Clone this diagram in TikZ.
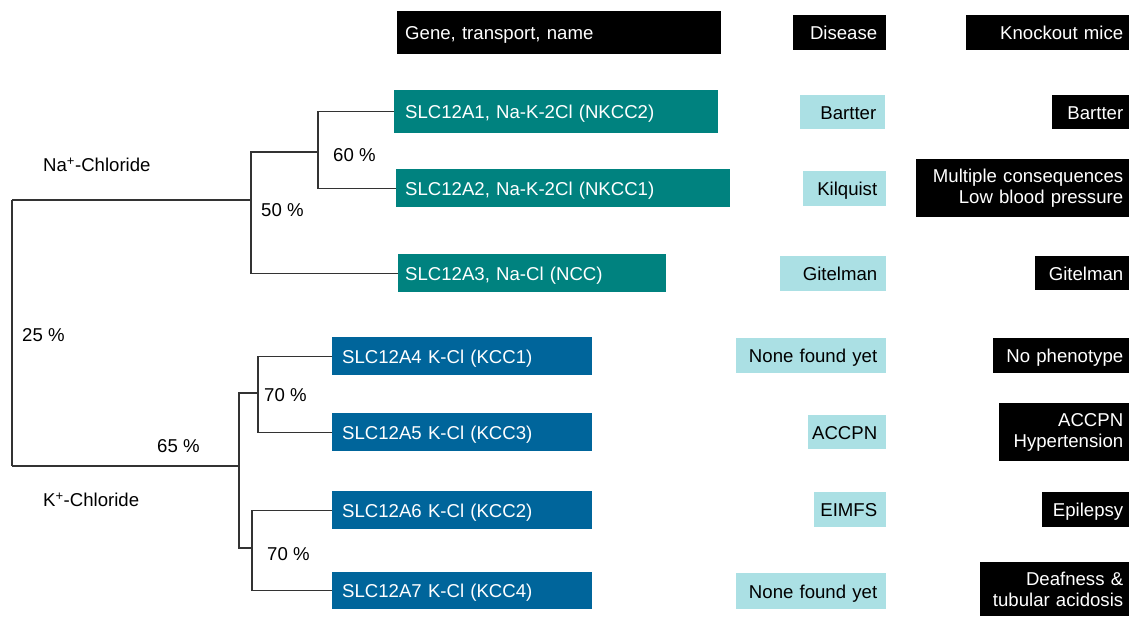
\documentclass[tikz,border=0pt]{standalone}
\usepackage{fontspec}
\setmainfont{Liberation Sans}
\definecolor{tealbox}{HTML}{00827F}
\definecolor{bluebox}{HTML}{00659B}
\definecolor{cyanbox}{HTML}{ABE0E4}
\definecolor{treeline}{HTML}{333333}
\newcommand\rtext[1]{\hspace*{\fill}\llap{#1}}
\begin{document}
\begin{tikzpicture}[x=1pt,y=-1pt,
 txt/.style={font=\fontsize{18.6pt}{21.5pt}\selectfont, inner sep=0pt},
 box/.style={txt, rectangle, anchor=north west, inner ysep=0pt},
 one/.style={text height=13.6pt, text depth=0pt},
 hdr/.style={fill=black, text=white},
 genebox/.style={box, align=left, fill=tealbox, text=white},
 kgenebox/.style={box, align=left, fill=bluebox, text=white, inner xsep=10pt},
 disbox/.style={box, one, align=left, fill=cyanbox, text=black, inner xsep=9pt},
 mousebox/.style={box, align=right, fill=black, text=white, inner xsep=6pt},
 lab/.style={txt, anchor=base west, text=black},
 tree/.style={draw=treeline, line width=1.1pt}
]
\useasboundingbox (0,0) rectangle (1129,616);

% headers
\node[box, hdr, one, align=left, inner xsep=8pt, text width=308pt, minimum height=43pt] (hgene) at (397,11) {Gene, transport, name};
\node[box, hdr, one, align=left, inner xsep=9pt, text width=75pt, minimum height=35pt] (hdis) at (793,15) {\rtext{Disease}};
\node[mousebox, one, text width=151pt, minimum height=35pt] (hko) at (966,15) {Knockout mice};

% gene boxes
\node[genebox, one, inner xsep=11pt, text width=302pt, minimum height=43pt] (a1) at (394,90) {SLC12A1, Na-K-2Cl (NKCC2)};
\node[genebox, one, inner xsep=9pt, text width=316pt, minimum height=38pt] (a2) at (396,169) {SLC12A2, Na-K-2Cl (NKCC1)};
\node[genebox, one, inner xsep=7pt, text width=254pt, minimum height=38pt] (a3) at (398,254) {SLC12A3, Na-Cl (NCC)};
\node[kgenebox, one, text width=240pt, minimum height=38pt] (a4) at (332,337) {SLC12A4 K-Cl (KCC1)};
\node[kgenebox, one, text width=240pt, minimum height=38pt] (a5) at (332,413) {SLC12A5 K-Cl (KCC3)};
\node[kgenebox, one, text width=240pt, minimum height=38pt] (a6) at (332,491) {SLC12A6 K-Cl (KCC2)};
\node[kgenebox, one, text width=240pt, minimum height=37pt] (a7) at (332,572) {SLC12A7 K-Cl (KCC4)};

% disease boxes
\node[disbox, text width=67pt, minimum height=34pt] (d1) at (800,95) {\rtext{Bartter}};
\node[disbox, text width=65pt, minimum height=35pt] (d2) at (803,171) {\rtext{Kilquist}};
\node[disbox, text width=88pt, minimum height=35pt] (d3) at (780,256) {\rtext{Gitelman}};
\node[disbox, text width=132pt, minimum height=35pt] (d4) at (736,338) {\rtext{None found yet}};
\node[disbox, text width=60pt, minimum height=34pt] (d5) at (808,415) {\rtext{ACCPN}};
\node[disbox, text width=54pt, minimum height=35pt] (d6) at (814,492) {\rtext{EIMFS}};
\node[disbox, text width=132pt, minimum height=36pt] (d7) at (736,573) {\rtext{None found yet}};

% knockout mice boxes
\node[mousebox, one, text width=65pt, minimum height=34pt] (m1) at (1052,95) {Bartter};
\node[mousebox, text width=201pt, minimum height=58pt] (m2) at (916,159) {Multiple consequences\\Low blood pressure};
\node[mousebox, one, text width=82pt, minimum height=34pt] (m3) at (1035,256) {Gitelman};
\node[mousebox, one, text width=124pt, minimum height=35pt] (m4) at (993,338) {No phenotype};
\node[mousebox, text width=118pt, minimum height=58pt] (m5) at (999,403) {ACCPN\\Hypertension};
\node[mousebox, one, text width=75pt, minimum height=35pt] (m6) at (1042,492) {Epilepsy};
\node[mousebox, text width=137pt, minimum height=54pt] (m7) at (980,562) {Deafness \&\\tubular acidosis};

% tree joints
\coordinate (rootT) at (12,200);
\coordinate (rootB) at (12,466);
\coordinate (naJ) at (251,200);
\coordinate (n60) at (318,152);
\coordinate (kJ) at (239,466);
\coordinate (k1) at (258,393);
\coordinate (k2) at (252,548);

\draw[tree] (rootT) -- (rootB);
\draw[tree] (rootT) -- (naJ);
\draw[tree] (naJ) |- (n60);
\draw[tree] (naJ) |- (a3);
\draw[tree] (n60) |- (a1);
\draw[tree] (n60) |- (a2);
\draw[tree] (rootB) -- (kJ);
\draw[tree] (kJ) |- (k1);
\draw[tree] (kJ) |- (k2);
\draw[tree] (k1) |- (a4);
\draw[tree] (k1) |- (a5);
\draw[tree] (k2) |- (a6);
\draw[tree] (k2) |- (a7);

% labels
\node[lab] (lna) at (43,171.5) {Na\textsuperscript{+}-Chloride};
\node[lab] (lk) at (43,506.5) {K\textsuperscript{+}-Chloride};
\node[lab] (p60) at (333,161) {60 \%};
\node[lab] (p50) at (261,216) {50 \%};
\node[lab] (p25) at (22,341.7) {25 \%};
\node[lab] (p65) at (157,452.7) {65 \%};
\node[lab] (p70a) at (264,401.7) {70 \%};
\node[lab] (p70b) at (267,560) {70 \%};
\end{tikzpicture}
\end{document}
